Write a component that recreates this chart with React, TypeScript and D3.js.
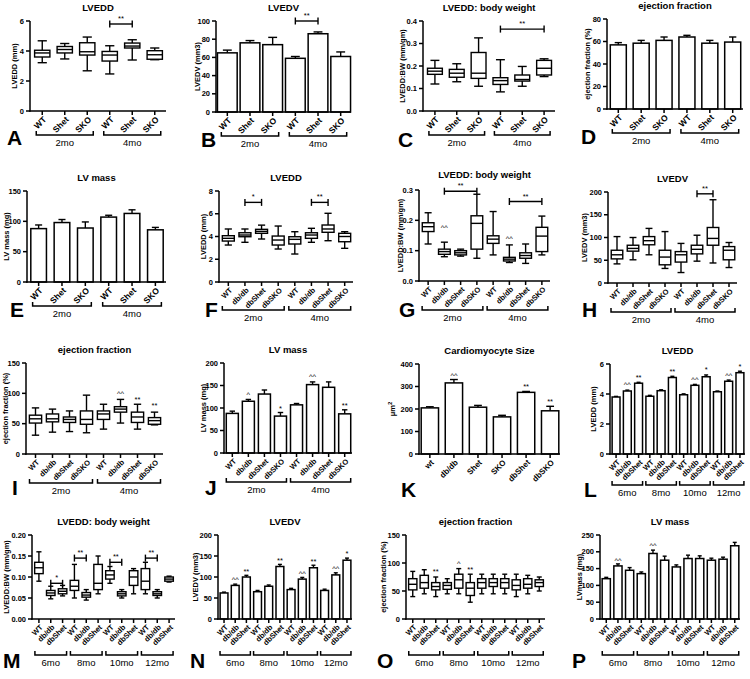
import React from "react";
import * as d3 from "d3";

type Box = [number, number, number, number, number];
type Star = { i: number; v: number; t: string };
type Brk = { a: number; b: number; v: number; t: string };

// ---------- categories ----------
const cats6 = ["WT", "Shet", "SKO", "WT", "Shet", "SKO"];
const catsDb = ["WT", "db/db", "dbShet", "dbSKO", "WT", "db/db", "dbShet", "dbSKO"];
const catsK = ["wt", "db/db", "Shet", "SKO", "dbShet", "dbSKO"];
const catsAge = ["WT", "db/db", "dbShet", "WT", "db/db", "dbShet", "WT", "db/db", "dbShet", "WT", "db/db", "dbShet"];
const groups2 = ["2mo", "4mo"];
const groups4 = ["6mo", "8mo", "10mo", "12mo"];

// ---------- data ----------
const boxA: Box[] = [
  [3.22, 3.6, 3.87, 4.05, 4.68], [3.47, 3.87, 4.1, 4.3, 4.5], [2.68, 3.73, 3.95, 4.55, 4.93],
  [2.47, 3.33, 3.73, 3.97, 4.35], [3.4, 4.2, 4.33, 4.53, 4.75], [3.42, 3.45, 3.75, 4.02, 4.2],
];
const meanB = [65, 76, 74, 59, 86, 61];
const errB = [3, 2.5, 8, 2, 2, 5];
const boxC: Box[] = [
  [0.12, 0.163, 0.177, 0.19, 0.225], [0.13, 0.15, 0.168, 0.185, 0.21], [0.11, 0.145, 0.168, 0.26, 0.325],
  [0.085, 0.118, 0.135, 0.148, 0.228], [0.11, 0.133, 0.14, 0.16, 0.198], [0.153, 0.16, 0.19, 0.225, 0.232],
];
const meanD = [57, 58.5, 61, 64, 58.5, 59.5];
const errD = [2, 2.5, 3, 1.5, 2.5, 4.5];
const meanE = [88, 98, 89, 107, 113, 86];
const errE = [6, 5, 10, 3, 6, 4];
const boxF: Box[] = [
  [3.25, 3.6, 3.84, 4.07, 4.66], [3.49, 3.98, 4.13, 4.33, 4.66], [3.78, 4.28, 4.45, 4.63, 5.0], [2.9, 3.25, 3.69, 4.04, 4.92],
  [2.46, 3.34, 3.75, 3.98, 4.42], [3.49, 3.84, 4.13, 4.33, 4.72], [3.63, 4.37, 4.66, 5.01, 6.04], [2.96, 3.54, 4.0, 4.28, 4.42],
];
const boxG: Box[] = [
  [0.122, 0.163, 0.179, 0.192, 0.225], [0.08, 0.088, 0.097, 0.105, 0.128], [0.082, 0.086, 0.093, 0.1, 0.105], [0.075, 0.105, 0.19, 0.215, 0.286],
  [0.086, 0.124, 0.138, 0.149, 0.229], [0.061, 0.066, 0.072, 0.078, 0.119], [0.058, 0.075, 0.084, 0.093, 0.122], [0.086, 0.097, 0.148, 0.177, 0.214],
];
const boxH: Box[] = [
  [42, 53, 62, 72, 102], [51, 70, 76, 83, 100], [62, 84, 93, 102, 120], [32, 40, 57, 72, 113],
  [23, 46, 62, 69, 87], [48, 64, 74, 83, 105], [44, 83, 98, 122, 183], [34, 51, 72, 80, 89],
];
const boxI: Box[] = [
  [31, 51, 58, 64, 76], [36, 53, 58, 66, 74], [37, 52, 57, 61, 71], [35, 49, 57, 71, 97],
  [41, 57, 66, 71, 82], [51, 69, 74, 78, 90], [41, 52, 61, 69, 82], [48, 49, 55, 60, 69],
];
const meanJ = [88, 115, 131, 82, 107, 152, 146, 87];
const errJ = [5, 4, 9, 8, 3, 6, 12, 9];
const meanK = [205, 316, 208, 165, 274, 192];
const errK = [5, 15, 8, 7, 4, 20];
const meanL = [3.8, 4.2, 4.72, 3.85, 4.22, 5.1, 3.95, 4.58, 5.15, 4.15, 4.85, 5.42];
const errL = [0.04, 0.06, 0.06, 0.06, 0.06, 0.08, 0.06, 0.06, 0.12, 0.05, 0.08, 0.1];
const boxM: Box[] = [
  [0.09, 0.108, 0.122, 0.135, 0.16], [0.048, 0.056, 0.062, 0.068, 0.078], [0.055, 0.06, 0.066, 0.072, 0.08],
  [0.05, 0.068, 0.078, 0.092, 0.13], [0.045, 0.052, 0.057, 0.063, 0.07], [0.06, 0.07, 0.085, 0.13, 0.15],
  [0.085, 0.095, 0.105, 0.115, 0.125], [0.05, 0.055, 0.06, 0.065, 0.07], [0.06, 0.08, 0.1, 0.115, 0.12],
  [0.06, 0.07, 0.09, 0.12, 0.135], [0.05, 0.056, 0.06, 0.065, 0.07], [0.088, 0.09, 0.095, 0.1, 0.102],
];
const meanN = [62, 80, 100, 65, 78, 125, 70, 95, 122, 68, 105, 140];
const errN = [2, 3, 4, 3, 3, 5, 3, 4, 6, 3, 5, 5];
const boxO: Box[] = [
  [40, 52, 62, 72, 85], [45, 55, 65, 78, 88], [40, 52, 58, 65, 75],
  [45, 53, 60, 65, 72], [45, 55, 70, 80, 90], [30, 42, 55, 65, 80],
  [45, 55, 65, 72, 80], [45, 58, 65, 72, 80], [45, 55, 65, 72, 80],
  [40, 52, 60, 70, 80], [45, 55, 62, 72, 78], [50, 58, 65, 70, 75],
];
const meanP = [120, 158, 145, 135, 195, 175, 155, 180, 180, 175, 178, 218];
const errP = [4, 6, 8, 5, 10, 12, 6, 10, 8, 6, 6, 10];

// ---------- panel spec ----------
interface Spec {
  title: string; ylabel: React.ReactNode; letter: string; kind: "bar" | "box";
  cats: string[]; yMax: number; yStep: number; dec: number;
  means?: number[]; errs?: number[]; boxes?: Box[];
  stars?: Star[]; brackets?: Brk[]; groups?: string[]; gSize?: number;
  x0: number; x1: number; yTop: number; yBot: number;
  padIn: number; padOut: number; boxR?: number; titleOff?: number; xFont?: number;
  letterX: number; letterY: number; ylabelX: number; gOff: number; gExt: number;
}

const FONT = "'Liberation Sans', Arial, sans-serif";

function Panel({ p }: { p: Spec }) {
  const n = p.cats.length;
  const y = d3.scaleLinear().domain([0, p.yMax]).range([p.yBot, p.yTop]);
  const band = d3.scaleBand<number>().domain(d3.range(n)).range([p.x0 + 1, p.x1])
    .paddingInner(p.padIn).paddingOuter(p.padOut);
  const cx = (i: number) => (band(i) as number) + band.bandwidth() / 2;
  const ticks = d3.range(0, p.yMax + p.yStep / 2, p.yStep);
  const fmt = d3.format(`.${p.dec}f`);
  const xf = p.xFont || 7.5;
  const elems: React.ReactNode[] = [];
  if (p.kind === "bar" && p.means) {
    const bw = band.bandwidth();
    p.means.forEach((m, i) => {
      const x = band(i) as number;
      const e = p.errs ? p.errs[i] : 0;
      const cap = Math.max(4, bw * 0.45);
      elems.push(
        <g key={"b" + i}>
          <line x1={cx(i)} x2={cx(i)} y1={y(m)} y2={y(m + e)} stroke="#000" strokeWidth={1.4} />
          <line x1={cx(i) - cap / 2} x2={cx(i) + cap / 2} y1={y(m + e)} y2={y(m + e)} stroke="#000" strokeWidth={1.4} />
          <rect x={x} y={y(m)} width={bw} height={p.yBot - y(m)} fill="#fff" stroke="#000" strokeWidth={1.5} />
        </g>
      );
    });
  }
  if (p.kind === "box" && p.boxes) {
    const w = band.step() * (p.boxR || 0.68);
    p.boxes.forEach((b, i) => {
      const c = cx(i);
      const cap = w * 0.6;
      elems.push(
        <g key={"x" + i} stroke="#000" strokeWidth={1.4} fill="none">
          <line x1={c} x2={c} y1={y(b[0])} y2={y(b[1])} />
          <line x1={c} x2={c} y1={y(b[3])} y2={y(b[4])} />
          <line x1={c - cap / 2} x2={c + cap / 2} y1={y(b[0])} y2={y(b[0])} />
          <line x1={c - cap / 2} x2={c + cap / 2} y1={y(b[4])} y2={y(b[4])} />
          <rect x={c - w / 2} y={y(b[3])} width={w} height={y(b[1]) - y(b[3])} fill="#fff" />
          <line x1={c - w / 2} x2={c + w / 2} y1={y(b[2])} y2={y(b[2])} />
        </g>
      );
    });
  }
  const gSize = p.gSize || 3;
  return (
    <g fontFamily={FONT}>
      <text x={(p.x0 + p.x1) / 2} y={p.yTop - (p.titleOff || 10)} textAnchor="middle" fontSize={9.5} fontWeight="bold">{p.title}</text>
      <text transform={`translate(${p.ylabelX},${(p.yTop + p.yBot) / 2}) rotate(-90)`} textAnchor="middle"
        dominantBaseline="middle" fontSize={7.5} fontWeight="bold">{p.ylabel}</text>
      {elems}
      {/* y axis */}
      <line x1={p.x0} x2={p.x0} y1={p.yTop} y2={p.yBot + 0.75} stroke="#000" strokeWidth={1.5} />
      {ticks.map((t, k) => (
        <g key={"yt" + k}>
          <line x1={p.x0 - 4} x2={p.x0} y1={y(t)} y2={y(t)} stroke="#000" strokeWidth={1.5} />
          <text x={p.x0 - 6} y={y(t)} dy="0.35em" textAnchor="end" fontSize={7.5} fontWeight="bold">{fmt(t)}</text>
        </g>
      ))}
      {/* x axis */}
      <line x1={p.x0 - 0.75} x2={p.x1} y1={p.yBot} y2={p.yBot} stroke="#000" strokeWidth={1.5} />
      {p.cats.map((c, i) => (
        <g key={"xt" + i}>
          <line x1={cx(i)} x2={cx(i)} y1={p.yBot} y2={p.yBot + 4} stroke="#000" strokeWidth={1.5} />
          <text transform={`translate(${cx(i) + 2.5},${p.yBot + 7}) rotate(-45)`} textAnchor="end"
            dy="0.35em" fontSize={xf} fontWeight="bold">{c}</text>
        </g>
      ))}
      {/* significance */}
      {(p.brackets || []).map((b, k) => {
        const yy = y(b.v);
        return (
          <g key={"br" + k} stroke="#000" strokeWidth={1.4}>
            <line x1={cx(b.a)} x2={cx(b.b)} y1={yy} y2={yy} />
            <line x1={cx(b.a)} x2={cx(b.a)} y1={yy - 3.5} y2={yy + 3.5} />
            <line x1={cx(b.b)} x2={cx(b.b)} y1={yy - 3.5} y2={yy + 3.5} />
            <text x={(cx(b.a) + cx(b.b)) / 2} y={yy - 3} textAnchor="middle" fontSize={7.5} stroke="none">{b.t}</text>
          </g>
        );
      })}
      {(p.stars || []).map((s, k) => (
        <text key={"st" + k} x={cx(s.i)} y={y(s.v)} textAnchor="middle" fontSize={7.5}>{s.t}</text>
      ))}
      {/* groups */}
      {(p.groups || []).map((g, k) => {
        const a = k * gSize, b = k * gSize + gSize - 1;
        const gy = p.yBot + p.gOff;
        const xa = cx(a) - p.gExt, xb = cx(b) + p.gExt;
        return (
          <g key={"g" + k}>
            <path d={`M${xa},${gy - 4}V${gy}H${xb}V${gy - 4}`} fill="none" stroke="#000" strokeWidth={1.5} />
            <text x={(xa + xb) / 2} y={gy + 11} textAnchor="middle" fontSize={9.5}>{g}</text>
          </g>
        );
      })}
      <text x={p.letterX} y={p.letterY} fontSize={21} fontWeight="bold">{p.letter}</text>
    </g>
  );
}

const specs: Spec[] = [
  { title: "LVEDD", ylabel: "LVEDD (mm)", letter: "A", kind: "box", cats: cats6, yMax: 6, yStep: 2, dec: 0,
    boxes: boxA, brackets: [{ a: 3, b: 4, v: 5.8, t: "**" }], groups: groups2, xFont: 8.5,
    x0: 30, x1: 166, yTop: 21, yBot: 111, padIn: 0, padOut: 0, boxR: 0.68,
    letterX: 7, letterY: 145, ylabelX: 15, gOff: 24, gExt: 6 },
  { title: "LVEDV", ylabel: "LVEDV (mm3)", letter: "B", kind: "bar", cats: cats6, yMax: 100, yStep: 20, dec: 0,
    means: meanB, errs: errB, brackets: [{ a: 3, b: 4, v: 100, t: "**" }], groups: groups2, xFont: 8.5,
    x0: 216, x1: 351, yTop: 21, yBot: 112, padIn: 0.13, padOut: 0.02,
    letterX: 201, letterY: 147, ylabelX: 198, gOff: 24, gExt: 6 },
  { title: "LVEDD: body weight", ylabel: "LVEDD:BW (mm/gm)", letter: "C", kind: "box", cats: cats6, yMax: 0.4, yStep: 0.1, dec: 1,
    boxes: boxC, brackets: [{ a: 3, b: 5, v: 0.364, t: "**" }], groups: groups2, xFont: 8.5,
    x0: 423, x1: 555, yTop: 21, yBot: 111, padIn: 0, padOut: 0, boxR: 0.68,
    letterX: 398, letterY: 147, ylabelX: 403, gOff: 24, gExt: 6 },
  { title: "ejection fraction", ylabel: "ejection fraction (%)", letter: "D", kind: "bar", cats: cats6, yMax: 80, yStep: 20, dec: 0,
    means: meanD, errs: errD, groups: groups2, xFont: 8.5,
    x0: 607, x1: 743, yTop: 19, yBot: 109, padIn: 0.3, padOut: 0.1,
    letterX: 581, letterY: 144, ylabelX: 588, gOff: 24, gExt: 6 },
  { title: "LV mass", ylabel: "LV mass (mg)", letter: "E", kind: "bar", cats: cats6, yMax: 150, yStep: 50, dec: 0,
    means: meanE, errs: errE, groups: groups2, xFont: 8.5,
    x0: 27, x1: 166, yTop: 191, yBot: 282, padIn: 0.33, padOut: 0.12,
    letterX: 10, letterY: 317, ylabelX: 7, gOff: 24, gExt: 6 },
  { title: "LVEDD", ylabel: "LVEDD (mm)", letter: "F", kind: "box", cats: catsDb, yMax: 8, yStep: 2, dec: 0,
    boxes: boxF, brackets: [{ a: 1, b: 2, v: 7, t: "*" }, { a: 5, b: 6, v: 7, t: "**" }], groups: groups2, gSize: 4,
    x0: 219, x1: 353, yTop: 191, yBot: 282, padIn: 0, padOut: 0, boxR: 0.72,
    letterX: 205, letterY: 317, ylabelX: 204, gOff: 28, gExt: 6 },
  { title: "LVEDD: body weight", ylabel: "LVEDD:BW (mm/gm)", letter: "G", kind: "box", cats: catsDb, yMax: 0.3, yStep: 0.1, dec: 1,
    boxes: boxG, stars: [{ i: 1, v: 0.168, t: "^^" }, { i: 5, v: 0.133, t: "^^" }],
    brackets: [{ a: 1, b: 3, v: 0.296, t: "**" }, { a: 5, b: 7, v: 0.262, t: "**" }], groups: groups2, gSize: 4,
    x0: 419, x1: 550, yTop: 190, yBot: 281, padIn: 0, padOut: 0, boxR: 0.72, titleOff: 12,
    letterX: 399, letterY: 317, ylabelX: 401, gOff: 29, gExt: 6 },
  { title: "LVEDV", ylabel: "LVEDV (mm3)", letter: "H", kind: "box", cats: catsDb, yMax: 200, yStep: 50, dec: 0,
    boxes: boxH, brackets: [{ a: 5, b: 6, v: 196, t: "**" }], groups: groups2, gSize: 4,
    x0: 608, x1: 737, yTop: 192, yBot: 283, padIn: 0, padOut: 0, boxR: 0.72,
    letterX: 582, letterY: 317, ylabelX: 585, gOff: 29, gExt: 6 },
  { title: "ejection fraction", ylabel: "ejection fraction (%)", letter: "I", kind: "box", cats: catsDb, yMax: 150, yStep: 50, dec: 0,
    boxes: boxI, stars: [{ i: 5, v: 96, t: "^^" }, { i: 6, v: 86, t: "**" }, { i: 7, v: 76, t: "**" }], groups: groups2, gSize: 4,
    x0: 26, x1: 163, yTop: 363, yBot: 454, padIn: 0, padOut: 0, boxR: 0.72,
    letterX: 12, letterY: 495, ylabelX: 6, gOff: 29, gExt: 6 },
  { title: "LV mass", ylabel: "LV mass (mg)", letter: "J", kind: "bar", cats: catsDb, yMax: 200, yStep: 50, dec: 0,
    means: meanJ, errs: errJ,
    stars: [{ i: 1, v: 124, t: "^" }, { i: 3, v: 94, t: "*" }, { i: 5, v: 164, t: "^^" }, { i: 7, v: 100, t: "**" }],
    groups: groups2, gSize: 4,
    x0: 224, x1: 352, yTop: 363, yBot: 453, padIn: 0.25, padOut: 0.08,
    letterX: 205, letterY: 495, ylabelX: 204, gOff: 29, gExt: 6 },
  { title: "Cardiomyocyte Size", ylabel: <tspan>μm<tspan baselineShift="super" fontSize={6}>2</tspan></tspan>, letter: "K", kind: "bar",
    cats: catsK, yMax: 400, yStep: 100, dec: 0, means: meanK, errs: errK, xFont: 8,
    stars: [{ i: 1, v: 340, t: "^^" }, { i: 4, v: 288, t: "**" }, { i: 5, v: 224, t: "**" }],
    x0: 419, x1: 560, yTop: 364, yBot: 454, padIn: 0.28, padOut: 0.05,
    letterX: 401, letterY: 497, ylabelX: 393, gOff: 29, gExt: 6 },
  { title: "LVEDD", ylabel: "LVEDD (mm)", letter: "L", kind: "bar", cats: catsAge, yMax: 6, yStep: 2, dec: 0,
    means: meanL, errs: errL,
    stars: [{ i: 1, v: 4.45, t: "^^" }, { i: 2, v: 4.95, t: "**" }, { i: 5, v: 5.35, t: "**" }, { i: 7, v: 4.8, t: "^^" },
      { i: 8, v: 5.45, t: "*" }, { i: 10, v: 5.1, t: "^^" }, { i: 11, v: 5.7, t: "*" }],
    groups: groups4, gSize: 3,
    x0: 610, x1: 745, yTop: 364, yBot: 454, padIn: 0.3, padOut: 0.1,
    letterX: 584, letterY: 497, ylabelX: 594, gOff: 31, gExt: 4 },
  { title: "LVEDD: body weight", ylabel: "LVEDD:BW (mm/gm)", letter: "M", kind: "box", cats: catsAge, yMax: 0.2, yStep: 0.05, dec: 2,
    boxes: boxM,
    brackets: [{ a: 1, b: 2, v: 0.085, t: "*" }, { a: 3, b: 4, v: 0.145, t: "**" }, { a: 6, b: 7, v: 0.135, t: "**" }, { a: 9, b: 10, v: 0.145, t: "**" }],
    groups: groups4, gSize: 3,
    x0: 32, x1: 175, yTop: 535, yBot: 619, padIn: 0, padOut: 0, boxR: 0.72,
    letterX: 3, letterY: 668, ylabelX: 7, gOff: 36, gExt: 4 },
  { title: "LVEDV", ylabel: "LVEDV (mm3)", letter: "N", kind: "bar", cats: catsAge, yMax: 200, yStep: 50, dec: 0,
    means: meanN, errs: errN,
    stars: [{ i: 1, v: 88, t: "^^" }, { i: 2, v: 108, t: "**" }, { i: 5, v: 134, t: "**" }, { i: 7, v: 103, t: "^^" },
      { i: 8, v: 132, t: "**" }, { i: 10, v: 114, t: "^^" }, { i: 11, v: 149, t: "*" }],
    groups: groups4, gSize: 3,
    x0: 218, x1: 352, yTop: 535, yBot: 619, padIn: 0.3, padOut: 0.1,
    letterX: 190, letterY: 668, ylabelX: 196, gOff: 36, gExt: 4 },
  { title: "ejection fraction", ylabel: "ejection fraction (%)", letter: "O", kind: "box", cats: catsAge, yMax: 150, yStep: 50, dec: 0,
    boxes: boxO, stars: [{ i: 2, v: 80, t: "**" }, { i: 4, v: 94, t: "^" }, { i: 5, v: 84, t: "**" }],
    groups: groups4, gSize: 3,
    x0: 406, x1: 545, yTop: 535, yBot: 619, padIn: 0, padOut: 0, boxR: 0.72,
    letterX: 377, letterY: 668, ylabelX: 384, gOff: 36, gExt: 4 },
  { title: "LV mass", ylabel: "LVmass (mg)", letter: "P", kind: "bar", cats: catsAge, yMax: 250, yStep: 50, dec: 0,
    means: meanP, errs: errP, stars: [{ i: 1, v: 168, t: "^^" }, { i: 4, v: 210, t: "^^" }],
    groups: groups4, gSize: 3,
    x0: 600, x1: 740, yTop: 535, yBot: 619, padIn: 0.3, padOut: 0.1,
    letterX: 572, letterY: 668, ylabelX: 580, gOff: 36, gExt: 4 },
];

export default function App() {
  return (
    <svg width={750} height={679} viewBox="0 0 750 679"
      style={{ position: "absolute", left: 0, top: 0, background: "#fff" }}>
      <rect width={750} height={679} fill="#fff" />
      {specs.map((s, k) => <Panel key={k} p={s} />)}
    </svg>
  );
}
